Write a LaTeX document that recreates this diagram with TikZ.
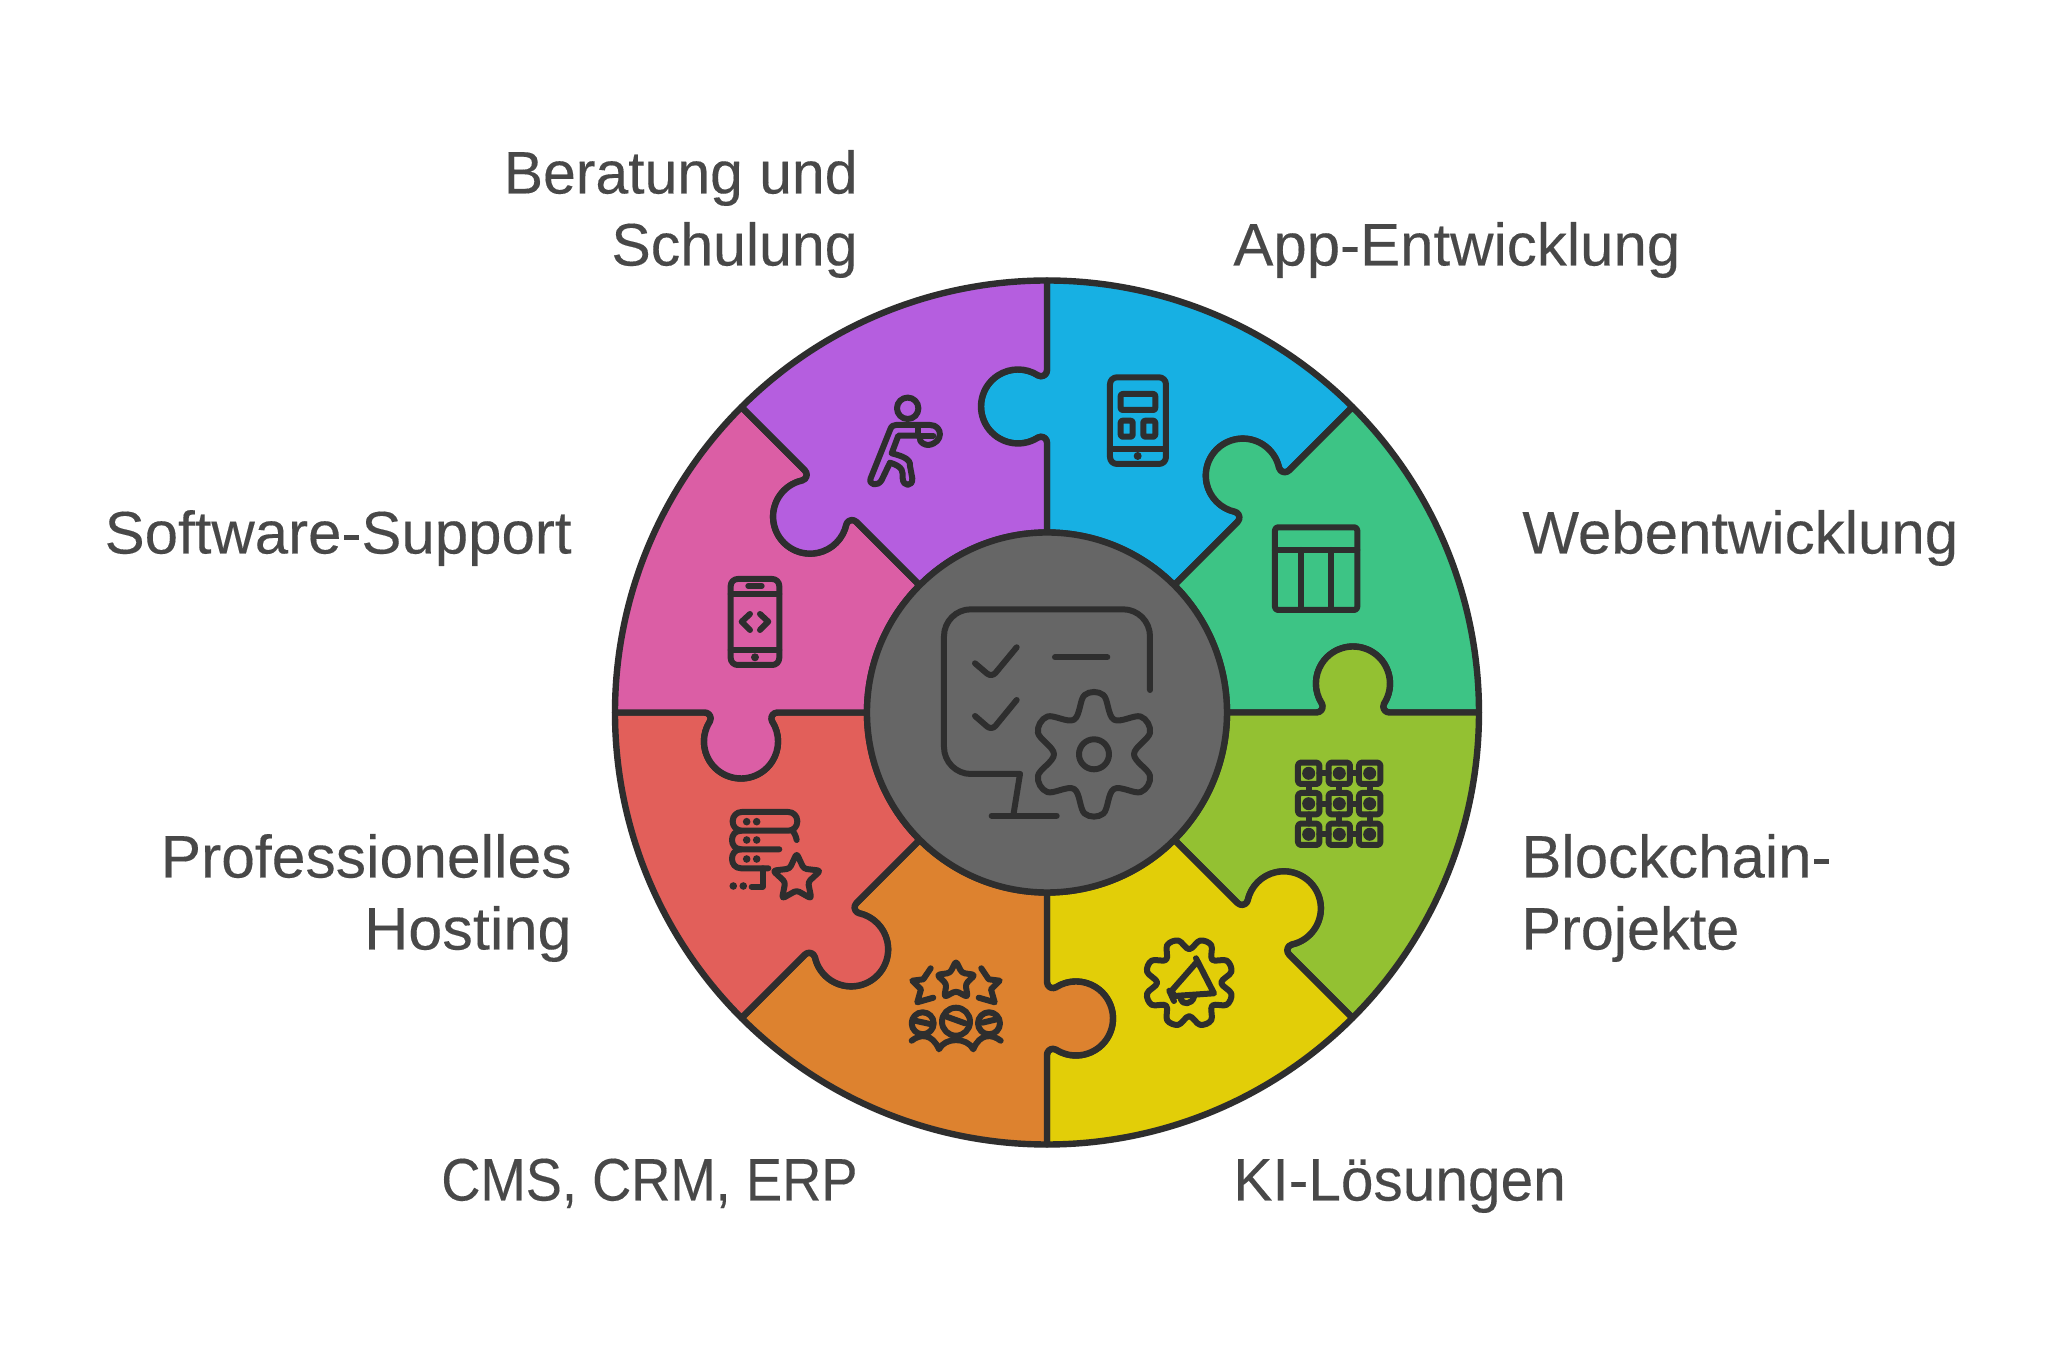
\documentclass[tikz,border=0pt]{standalone}
\usepackage{fontspec}
\usepackage{graphicx}
\setmainfont{Liberation Sans}
\newfontfamily\labfont[RawFeature={embolden=0.2}]{Liberation Sans}
\definecolor{ink}{HTML}{2E2E2E}
\definecolor{txt}{HTML}{484848}
\definecolor{cblue}{HTML}{17B0E3}
\definecolor{cgreen}{HTML}{3DC485}
\definecolor{clime}{HTML}{93C132}
\definecolor{cyellow}{HTML}{E2CE08}
\definecolor{corange}{HTML}{DD822F}
\definecolor{cred}{HTML}{E25F5A}
\definecolor{cpink}{HTML}{DB5EA5}
\definecolor{cpurple}{HTML}{B55EDF}
\definecolor{cgrey}{HTML}{666666}
\tikzset{
  piece/.style={draw=ink,line width=3.2pt,line join=round},
  icon/.style={draw=ink,line width=3pt,line cap=round,line join=round},
  dotk/.style={fill=ink,draw=none},
  lab/.style={text=txt,inner sep=0pt,font=\labfont\fontsize{30}{30}\selectfont}
}
\newcommand\puzzle[2]{%
  \pgfmathsetmacro\ta{#2}\pgfmathsetmacro\tb{#2-45}%
  \draw[piece,fill=#1] (\ta:432) -- (\ta:342.3)
    arc[start angle=\ta-90,end angle=\ta-210,radius=6]
    arc[start angle=\ta-32.7,end angle=\ta+212.7,radius=37]
    arc[start angle=\ta+30,end angle=\ta-90,radius=6]
    -- (\ta:180)
    arc[start angle=\ta,end angle=\tb,radius=180]
    -- (\tb:269.7)
    arc[start angle=\tb-90,end angle=\tb+30,radius=6]
    arc[start angle=\tb+212.7,end angle=\tb-32.7,radius=37]
    arc[start angle=\tb+150,end angle=\tb+270,radius=6]
    -- (\tb:432)
    arc[start angle=\tb,end angle=\ta,radius=432] -- cycle;}
\begin{document}
\begin{tikzpicture}[x=.5pt,y=.5pt]
\useasboundingbox (-1047,-651.5) rectangle (1011,712.5);
\fill[white] (-1047,-651.5) rectangle (1011,712.5);
\puzzle{cblue}{90}
\puzzle{cgreen}{45}
\puzzle{clime}{0}
\puzzle{cyellow}{-45}
\puzzle{corange}{-90}
\puzzle{cred}{-135}
\puzzle{cpink}{180}
\puzzle{cpurple}{135}
\draw[piece,fill=cgrey] (0,0) circle[radius=180];
\begin{scope}[shift={(-1047,712.5)},yscale=-1]
% labels
\node[lab,anchor=base east] (l1) at (858,193.5) {\scalebox{.982}[1]{Beratung und}};
\node[lab,anchor=base east] (l2) at (858,265.5) {\scalebox{.984}[1]{Schulung}};
\node[lab,anchor=base west] (l3) at (1233,265.5) {App-Entwicklung};
\node[lab,anchor=base east] (l4) at (572,553.5) {Software-Support};
\node[lab,anchor=base west] (l5) at (1522,553.5) {Webentwicklung};
\node[lab,anchor=base east] (l6) at (572,877.5) {\scalebox{1.01}[1]{Professionelles}};
\node[lab,anchor=base east] (l7) at (572,949.5) {\scalebox{1.02}[1]{Hosting}};
\node[lab,anchor=base west] (l8) at (1521,877.5) {Blockchain-};
\node[lab,anchor=base west] (l9) at (1521,949.5) {\scalebox{.99}[1]{Projekte}};
\node[lab,anchor=base east] (l10) at (858,1200.5) {\scalebox{.905}[1]{CMS, CRM, ERP}};
\node[lab,anchor=base west] (l11) at (1233,1200.5) {\scalebox{.977}[1]{KI-Lösungen}};
% tablet
\draw[icon,rounded corners=3.5pt] (1110,377.3) rectangle (1166,464);
\draw[icon,rounded corners=1pt] (1120.7,394) rectangle (1155.3,410);
\draw[icon,rounded corners=1pt] (1120.7,420.7) rectangle (1132.7,436.7);
\draw[icon,rounded corners=1pt] (1143.3,420.7) rectangle (1155.3,436.7);
\draw[icon] (1110,449.3) -- (1166,449.3);
\fill[dotk] (1137.7,456) circle[radius=4];
% table
\draw[icon,rounded corners=1.5pt] (1275,527.3) rectangle (1357.3,610);
\draw[icon] (1275,550) -- (1357.3,550);
\draw[icon] (1300.7,550) -- (1300.7,610);
\draw[icon] (1331,550) -- (1331,610);
% runner
\draw[icon] (907.7,408.3) circle[radius=10.7];
\draw[icon] (918.3,435.7) -- (898.3,435.7) -- (891.7,453.3)
  .. controls (902,456) and (911,459) .. (910,466)
  -- (912.3,478.3) .. controls (913,487) and (903,487) .. (902.7,478.3)
  .. controls (902.7,472) and (904,467) .. (890,462.7)
  -- (881.7,480) .. controls (878,487) and (868,485) .. (870.7,478.3)
  -- (890,430) .. controls (891.5,426) and (893,425) .. (896,425)
  -- (930,425) .. controls (943,425) and (944,443) .. (928.3,445)
  .. controls (925,445) and (921,443) .. (920,440);
\draw[icon] (918.3,426.7) -- (918.3,435.7) -- (933.3,435.7);
% phone
\draw[icon,rounded corners=3.5pt] (730.7,579) rectangle (779.3,665);
\draw[icon] (730.7,594) -- (779.3,594);
\draw[icon] (730.7,650) -- (779.3,650);
\draw[icon] (748.3,586) -- (761.7,586);
\fill[dotk] (755,657.3) circle[radius=4];
\draw[icon] (750,614) -- (741.7,621.7) -- (750,630);
\draw[icon] (760,614) -- (768.3,621.7) -- (760,630);
% server and star
\draw[icon,rounded corners=4.5pt] (732.7,812) rectangle (797.3,830.7);
\draw[icon] (791.7,830) .. controls (794,832) and (796,836) .. (796.7,840);
\draw[icon] (741,830.7) .. controls (729,830.7) and (729,849.3) .. (741,849.3) -- (779.3,849.3);
\draw[icon] (741,849.3) .. controls (729,849.3) and (729,868.3) .. (741,868.3) -- (768.3,868.3);
\draw[icon] (762.7,868.3) -- (762.7,886.7) -- (751.7,886.7);
\foreach \px/\py in {746.7/821.7,756.7/821.7,746.7/840,756.7/840,746.7/859,756.7/859,733.3/886,743.3/886}
  \fill[dotk] (\px,\py) circle[radius=3.8];
\begin{scope}[shift={(796.7,878.4)}]
\draw[icon,rounded corners=1.5pt] (-90:25) -- (-54:12) -- (-18:25) -- (18:12) -- (54:25) -- (90:12) -- (126:25) -- (162:12) -- (198:25) -- (234:12) -- cycle;
\end{scope}
% stars and people
\begin{scope}[shift={(956,981)}]
\draw[icon,rounded corners=1.5pt] (-90:20) -- (-54:10) -- (-18:20) -- (18:10) -- (54:20) -- (90:10) -- (126:20) -- (162:10) -- (198:20) -- (234:10) -- cycle;
\end{scope}
\draw[icon] (930.7,968.3) -- (923.3,979.3) -- (912.3,980.7) -- (921,989.3) -- (917.3,1002.3) -- (933.3,997.7);
\draw[icon] (981.3,968.3) -- (988.7,979.3) -- (999.7,980.7) -- (991,989.3) -- (994.7,1002.3) -- (978.7,997.7);
\draw[icon] (956,1021.7) circle[radius=14];
\draw[icon] (946.7,1016.7) -- (965,1023.3);
\draw[icon] (922.7,1023.3) circle[radius=11];
\draw[icon] (915,1020.7) -- (930,1024);
\draw[icon] (989,1023.3) circle[radius=11];
\draw[icon] (982.3,1022.7) -- (996.7,1019.3);
\draw[icon] (911.7,1040.7) .. controls (920,1034) and (932,1033) .. (939,1049.3)
  .. controls (945,1037) and (967,1037) .. (973.3,1049.3)
  .. controls (980,1033) and (992,1034) .. (1000.7,1040.7);
% grid
\foreach \px in {1308.7,1339.3,1369.7}\foreach \py in {773.3,803.7,834.3}{
  \draw[icon,rounded corners=1.5pt] (\px-10.7,\py-10.7) rectangle (\px+10.7,\py+10.7);
  \fill[dotk] (\px,\py) circle[radius=6.5];}
\foreach \py in {773.3,803.7,834.3}{
  \draw[icon] (1319.4,\py) -- (1328.6,\py);
  \draw[icon] (1350,\py) -- (1359,\py);}
\foreach \px in {1308.7,1339.3,1369.7}{
  \draw[icon] (\px,784) -- (\px,793);
  \draw[icon] (\px,814.4) -- (\px,823.6);}
% yellow gear
\begin{scope}[shift={(1189.2,982.7)}]
\draw[icon] plot[smooth cycle,tension=.6] coordinates {(14.5:43.5)(30.5:43.5)(45:32.5)(59.5:43.5)(75.5:43.5)(90:33.5)(104.5:43.5)(120.5:43.5)(135:32.5)(149.5:43.5)(165.5:43.5)(180:32)(194.5:43.5)(210.5:43.5)(225:32.5)(239.5:43.5)(255.5:43.5)(270:33.5)(284.5:43.5)(300.5:43.5)(315:32.5)(329.5:43.5)(345.5:43.5)(0:32)};
\end{scope}
\draw[icon] (1196,958.3) -- (1214,993.3) -- (1174.3,996) -- (1171.7,990.7) -- (1196,963);
\draw[icon] (1169.3,990.7) -- (1174,1001);
\draw[icon] (1180.7,999) .. controls (1182,1005) and (1192,1005) .. (1194,996.7);
% centre icon
\draw[icon,rounded corners=13.5pt] (1150,690) -- (1150,609.3) -- (944,609.3) -- (944,774) -- (1020,774);
\draw[icon] (1020,774) -- (1013.3,815.7);
\draw[icon] (991.7,815.7) -- (1056.7,815.7);
\draw[icon,rounded corners=3pt] (975,663.3) -- (991.7,677.5) -- (1016.7,647.3);
\draw[icon,rounded corners=3pt] (975,716) -- (991.7,730.5) -- (1016.7,700);
\draw[icon] (1055,657.3) -- (1107.3,657.3);
\begin{scope}[shift={(1094,754.3)}]
\draw[icon] (0,0) circle[radius=15];
\draw[icon] plot[smooth cycle,tension=.6] coordinates {(21:60)(39:60)(60:40)(81:60)(99:60)(120:40)(141:60)(159:60)(180:40)(201:60)(219:60)(240:40)(261:60)(279:60)(300:40)(321:60)(339:60)(0:40)};
\end{scope}
\end{scope}
\end{tikzpicture}
\end{document}
